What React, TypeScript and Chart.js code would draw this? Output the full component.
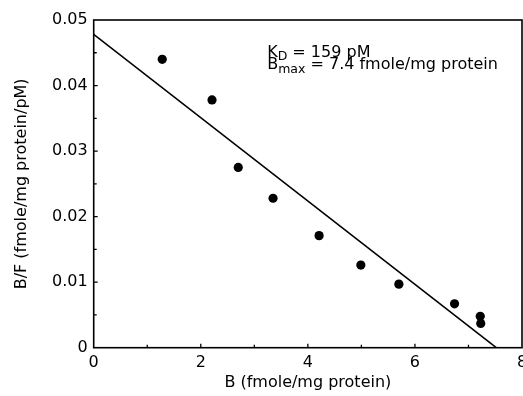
import React, { useEffect, useRef } from "react";
import { Chart, registerables } from "chart.js";

Chart.register(...registerables);

const bValues = [1.28, 2.21, 2.70, 3.35, 4.21, 4.99, 5.70, 6.74, 7.22, 7.23];
const bfValues = [0.0440, 0.0378, 0.0275, 0.0228, 0.0171, 0.0126, 0.0097, 0.0067, 0.0048, 0.0037];
const fitX = [0, 7.52];
const fitY = [0.0478, 0];
const xTickLabels = ["0", "2", "4", "6", "8"];
const yTickLabels = ["0", "0.01", "0.02", "0.03", "0.04", "0.05"];
const xTitle = "B (fmole/mg protein)";
const yTitle = "B/F (fmole/mg protein/pM)";
const annotLine1 = ["K", "D", " = 159 pM"];
const annotLine2 = ["B", "max", " = 7.4 fmole/mg protein"];

const FONT = "'DejaVu Sans', sans-serif";

const boxPlugin = {
  id: "boxTicks",
  afterDraw(chart: any) {
    const { ctx, chartArea: a, scales } = chart;
    const xs = scales.x;
    const ys = scales.y;
    ctx.save();
    ctx.strokeStyle = "#000";
    ctx.lineWidth = 1.6;
    ctx.strokeRect(a.left, a.top, a.right - a.left, a.bottom - a.top);
    ctx.lineWidth = 1.3;
    ctx.beginPath();
    xs.ticks.forEach((t: any) => {
      const px = xs.getPixelForValue(t.value);
      if (px <= a.left + 1 || px >= a.right - 1) return;
      const major = Math.abs(t.value / 2 - Math.round(t.value / 2)) < 1e-6;
      const len = major ? 4 : 3;
      ctx.moveTo(px, a.bottom);
      ctx.lineTo(px, a.bottom - len);
    });
    ys.ticks.forEach((t: any) => {
      const py = ys.getPixelForValue(t.value);
      if (py <= a.top + 1 || py >= a.bottom - 1) return;
      const major = Math.abs(t.value * 100 - Math.round(t.value * 100)) < 1e-6;
      const len = major ? 4 : 3;
      ctx.moveTo(a.left, py);
      ctx.lineTo(a.left + len, py);
    });
    ctx.stroke();

    // annotation
    const drawLine = (parts: string[], x: number, y: number) => {
      ctx.fillStyle = "#000";
      ctx.textBaseline = "alphabetic";
      ctx.textAlign = "left";
      ctx.font = `16px ${FONT}`;
      ctx.fillText(parts[0], x, y);
      x += ctx.measureText(parts[0]).width;
      ctx.font = `12.5px ${FONT}`;
      ctx.fillText(parts[1], x, y + 3.4);
      x += ctx.measureText(parts[1]).width;
      ctx.font = `16px ${FONT}`;
      ctx.fillText(parts[2], x, y);
    };
    const ax = xs.getPixelForValue(3.24);
    drawLine(annotLine1, ax, a.top + 37);
    drawLine(annotLine2, ax, a.top + 49.3);
    ctx.restore();
  },
};

export default function App() {
  const ref = useRef<HTMLCanvasElement>(null);
  useEffect(() => {
    document.body.style.margin = "0";
    const chart = new Chart(ref.current as HTMLCanvasElement, {
      type: "scatter",
      data: {
        datasets: [
          {
            type: "scatter",
            data: bValues.map((x, i) => ({ x, y: bfValues[i] })),
            pointRadius: 4.6,
            pointBackgroundColor: "#000",
            pointBorderColor: "#000",
            pointBorderWidth: 0,
          },
          {
            type: "line",
            data: fitX.map((x, i) => ({ x, y: fitY[i] })),
            borderColor: "#000",
            borderWidth: 1.5,
            pointRadius: 0,
            fill: false,
          } as any,
        ],
      },
      options: {
        animation: false,
        responsive: false,
        events: [],
        layout: { autoPadding: false, padding: { top: 20, right: 1, left: 0, bottom: 0 } },
        plugins: { legend: { display: false }, tooltip: { enabled: false } },
        scales: {
          x: {
            type: "linear",
            min: 0,
            max: 8,
            grid: { display: false, drawTicks: false },
            border: { display: false },
            ticks: {
              stepSize: 1,
              padding: 6,
              maxRotation: 0,
              autoSkip: false,
              color: "#000",
              font: { family: FONT, size: 16 },
              callback: (v: any) => {
                const n = Number(v);
                return Math.abs(n / 2 - Math.round(n / 2)) < 1e-6 ? xTickLabels[Math.round(n / 2)] : "";
              },
            },
            title: {
              display: true,
              text: xTitle,
              color: "#000",
              font: { family: FONT, size: 16 },
              padding: { top: 0, bottom: 4 },
            },
            afterFit: (s: any) => {
              s.height = 48.3;
              s.paddingLeft = 0;
              s.paddingRight = 0;
            },
          },
          y: {
            type: "linear",
            min: 0,
            max: 0.05,
            grid: { display: false, drawTicks: false },
            border: { display: false },
            ticks: {
              stepSize: 0.005,
              padding: 6,
              autoSkip: false,
              color: "#000",
              font: { family: FONT, size: 16 },
              callback: (v: any) => {
                const n = Number(v) * 100;
                return Math.abs(n - Math.round(n)) < 1e-6 ? yTickLabels[Math.round(n)] : "";
              },
            },
            title: {
              display: true,
              text: yTitle,
              color: "#000",
              font: { family: FONT, size: 16 },
              padding: { top: 12.5, bottom: 0 },
            },
            afterFit: (s: any) => {
              s.width = 93.7;
              s.paddingTop = 0;
              s.paddingBottom = 0;
            },
          },
        },
      },
      plugins: [boxPlugin],
    });
    return () => chart.destroy();
  }, []);
  return (
    <div style={{ width: 523, height: 396, background: "#fff" }}>
      <canvas ref={ref} width={523} height={396} style={{ display: "block" }} />
    </div>
  );
}
